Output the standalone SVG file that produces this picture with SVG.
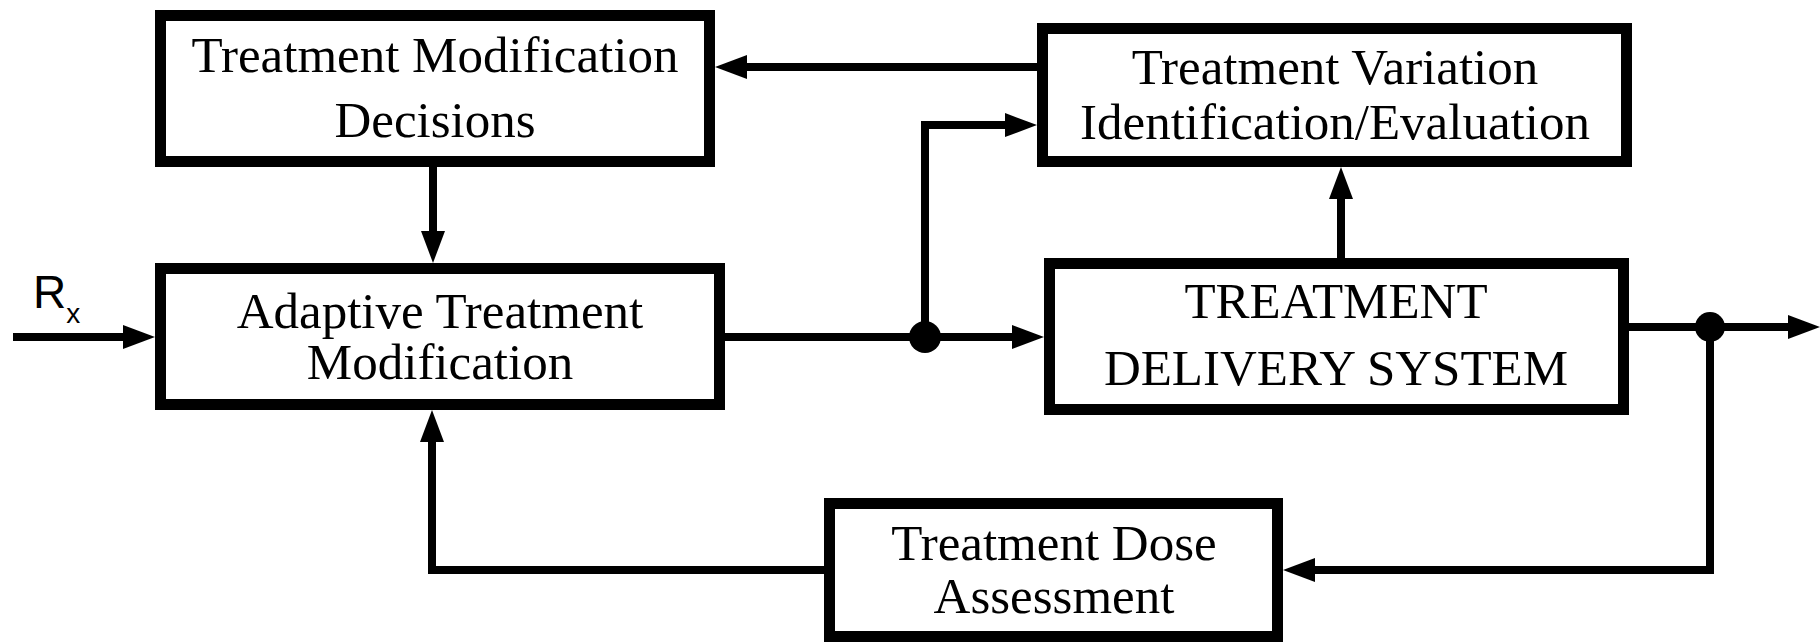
<svg xmlns="http://www.w3.org/2000/svg" width="1820" height="643" viewBox="0 0 1820 643">
<style>
.box{fill:#fff;stroke:#000;stroke-width:11}
.lbl{font-family:"Liberation Serif","Times New Roman",serif;font-size:51px;fill:#000;text-anchor:middle}
.conn{fill:none;stroke:#000;stroke-width:8}
.dot{fill:#000}
.rx{font-family:"Liberation Sans",Arial,sans-serif;fill:#000}
</style>
<defs>
<marker id="ah" viewBox="0 0 32 24" refX="10" refY="12" markerWidth="32" markerHeight="24" markerUnits="userSpaceOnUse" orient="auto">
<path d="M0,0 L32,12 L0,24 z" fill="#000"/>
</marker>
</defs>
<rect width="1820" height="643" fill="#fff"/>
<g id="connectors">
<line class="conn" x1="13" y1="337" x2="133" y2="337" marker-end="url(#ah)"/>
<line class="conn" x1="1037" y1="67" x2="737" y2="67" marker-end="url(#ah)"/>
<line class="conn" x1="433" y1="167" x2="433" y2="241" marker-end="url(#ah)"/>
<line class="conn" x1="725" y1="337" x2="1022" y2="337" marker-end="url(#ah)"/>
<path class="conn" d="M925,337 V125 H1015" marker-end="url(#ah)"/>
<line class="conn" x1="1341" y1="258" x2="1341" y2="189" marker-end="url(#ah)"/>
<line class="conn" x1="1629" y1="327" x2="1798" y2="327" marker-end="url(#ah)"/>
<path class="conn" d="M1710,327 V570 H1305" marker-end="url(#ah)"/>
<path class="conn" d="M824,570 H432 V432" marker-end="url(#ah)"/>
<circle class="dot" cx="925" cy="337" r="16"/>
<circle class="dot" cx="1710" cy="327" r="15"/>
</g>
<g id="rx-label">
<text class="rx" x="33" y="308" font-size="46">R<tspan font-size="28" dy="15">x</tspan></text>
</g>
<g id="node-tmd">
<rect class="box" x="160.5" y="15.5" width="549" height="146"/>
<text class="lbl" x="435" y="72">Treatment Modification</text>
<text class="lbl" x="435" y="137">Decisions</text>
</g>
<g id="node-tvie">
<rect class="box" x="1042.5" y="28.5" width="584" height="133"/>
<text class="lbl" x="1335" y="84">Treatment Variation</text>
<text class="lbl" x="1335" y="139">Identification/Evaluation</text>
</g>
<g id="node-atm">
<rect class="box" x="160.5" y="268.5" width="559" height="136"/>
<text class="lbl" x="440" y="328">Adaptive Treatment</text>
<text class="lbl" x="440" y="379">Modification</text>
</g>
<g id="node-tds">
<rect class="box" x="1049.5" y="263.5" width="574" height="146"/>
<text class="lbl" x="1336" y="318">TREATMENT</text>
<text class="lbl" x="1336" y="385">DELIVERY SYSTEM</text>
</g>
<g id="node-tda">
<rect class="box" x="829.5" y="503.5" width="448" height="133"/>
<text class="lbl" x="1054" y="560">Treatment Dose</text>
<text class="lbl" x="1054" y="613">Assessment</text>
</g>
</svg>
